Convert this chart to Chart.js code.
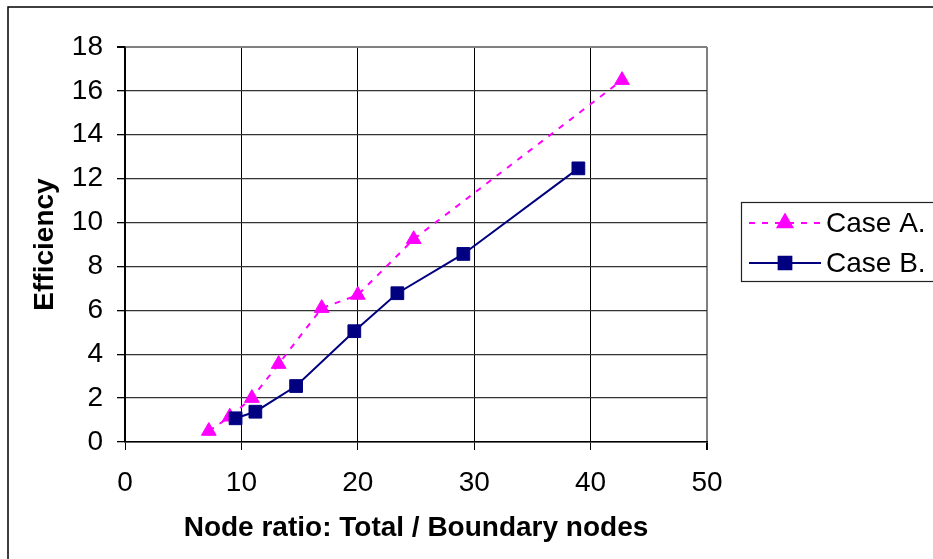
<!DOCTYPE html>
<html>
<head>
<meta charset="utf-8">
<script src="https://cdn.jsdelivr.net/npm/chart.js@4/dist/chart.umd.min.js"></script>
<style>
    html, body { margin: 0; padding: 0; background: #fff; }
    canvas { display: block; }
</style>
</head>
<body>
<canvas id="grafico" width="933" height="559"></canvas>
<script>
// values
const caseAX = [7.2, 9.0, 10.9, 13.2, 16.9, 20.0, 24.8, 42.7];
const caseAY = [0.5, 1.15, 2.0, 3.55, 6.1, 6.7, 9.24, 16.49];
const caseBX = [9.5, 11.2, 14.7, 19.7, 23.4, 29.07, 38.95];
const caseBY = [1.08, 1.38, 2.55, 5.05, 6.78, 8.57, 12.47];

const seriesNames = ["Case A.", "Case B."];
const xTicks = [0, 10, 20, 30, 40, 50];
const yTicks = [0, 2, 4, 6, 8, 10, 12, 14, 16, 18];

const xTitle = "Node ratio: Total / Boundary nodes";
const yTitle = "Efficiency";

Chart.defaults.font.family = "'Liberation Sans', Arial, sans-serif";
Chart.defaults.color = "#000";

function toPoints(xs, ys) {
    return xs.map((x, i) => ({ x: x, y: ys[i] }));
}

// white background + outer frame
const fundo = {
    id: "fundo",
    beforeDraw(chart) {
        const c = chart.ctx;
        c.save();
        c.fillStyle = "#fff";
        c.fillRect(0, 0, chart.width, chart.height);
        c.strokeStyle = "#000";
        c.lineWidth = 1.5;
        c.strokeRect(8, 7, chart.width + 20, chart.height + 20);
        c.restore();
    }
};

// legend box drawn like the original one
const legenda = {
    id: "legenda",
    afterDraw(chart) {
        const c = chart.ctx;
        c.save();
        c.strokeStyle = "#222";
        c.lineWidth = 1.2;
        c.strokeRect(741.5, 202.5, 220, 79);
        const rows = [223, 263];
        seriesNames.forEach((name, i) => {
            const ds = chart.data.datasets.find(d => d.label === name);
            const y = rows[i];
            c.strokeStyle = ds.borderColor;
            c.lineWidth = ds.borderWidth;
            c.setLineDash(ds.borderDash || []);
            c.beginPath();
            c.moveTo(749, y);
            c.lineTo(821, y);
            c.stroke();
            c.setLineDash([]);
            c.fillStyle = ds.pointBackgroundColor;
            c.strokeStyle = ds.pointBorderColor;
            Chart.helpers.drawPoint(c, {
                pointStyle: ds.pointStyle,
                radius: ds.pointRadius,
                rotation: 0,
                borderWidth: 1
            }, 785, y);
            c.fillStyle = "#000";
            c.font = "28px 'Liberation Sans', Arial, sans-serif";
            c.textBaseline = "middle";
            c.textAlign = "left";
            c.fillText(name, 826, y + 1);
        });
        c.restore();
    }
};

const ctx = document.getElementById("grafico").getContext("2d");

const chart = new Chart(ctx, {
    type: "scatter",
    data: {
        datasets: [
            {
                label: seriesNames[0],
                data: toPoints(caseAX, caseAY),
                showLine: true,
                borderColor: "#ff00ff",
                borderWidth: 2,
                borderDash: [6, 7],
                pointStyle: "triangle",
                pointRadius: 8.5,
                pointBackgroundColor: "#ff00ff",
                pointBorderColor: "#ff00ff",
                pointBorderWidth: 1,
                order: 2
            },
            {
                label: seriesNames[1],
                data: toPoints(caseBX, caseBY),
                showLine: true,
                borderColor: "#000080",
                borderWidth: 2,
                pointStyle: "rect",
                pointRadius: 9,
                pointBackgroundColor: "#000080",
                pointBorderColor: "#000080",
                pointBorderWidth: 1,
                order: 1
            }
        ]
    },
    options: {
        responsive: false,
        animation: false,
        devicePixelRatio: 1,
        layout: {
            padding: { left: 0, top: 47, right: 226, bottom: 0 }
        },
        plugins: {
            legend: { display: false },
            tooltip: { enabled: false }
        },
        scales: {
            x: {
                type: "linear",
                min: xTicks[0],
                max: xTicks[xTicks.length - 1],
                afterBuildTicks: scale => { scale.ticks = xTicks.map(v => ({ value: v })); },
                afterFit: scale => { scale.height = 117; },
                ticks: {
                    font: { size: 28 },
                    color: "#000",
                    padding: 16
                },
                grid: {
                    color: c => (c.tick && c.tick.value === 50) ? "#808080" : "#000",
                    lineWidth: c => (c.tick && c.tick.value === 50) ? 2 : 1,
                    tickColor: "#000",
                    tickLength: 8
                },
                border: { display: true, color: "#000", width: 1.5 },
                title: {
                    display: true,
                    text: xTitle,
                    font: { size: 28, weight: "bold" },
                    color: "#000",
                    padding: { top: 0, bottom: 14 }
                }
            },
            y: {
                type: "linear",
                min: yTicks[0],
                max: yTicks[yTicks.length - 1],
                afterBuildTicks: scale => { scale.ticks = yTicks.map(v => ({ value: v })); },
                afterFit: scale => { scale.width = 125; },
                ticks: {
                    font: { size: 28 },
                    color: "#000",
                    padding: 14
                },
                grid: {
                    color: c => (c.tick && c.tick.value === 18) ? "#808080" : "#333",
                    lineWidth: c => (c.tick && c.tick.value === 18) ? 2 : 1.3,
                    tickColor: "#000",
                    tickLength: 8
                },
                border: { display: true, color: "#000", width: 1.5 },
                title: {
                    display: true,
                    text: yTitle,
                    font: { size: 28, weight: "bold" },
                    color: "#000",
                    padding: { top: 28, bottom: 0 }
                }
            }
        }
    },
    plugins: [fundo, legenda]
});
</script>
</body>
</html>
